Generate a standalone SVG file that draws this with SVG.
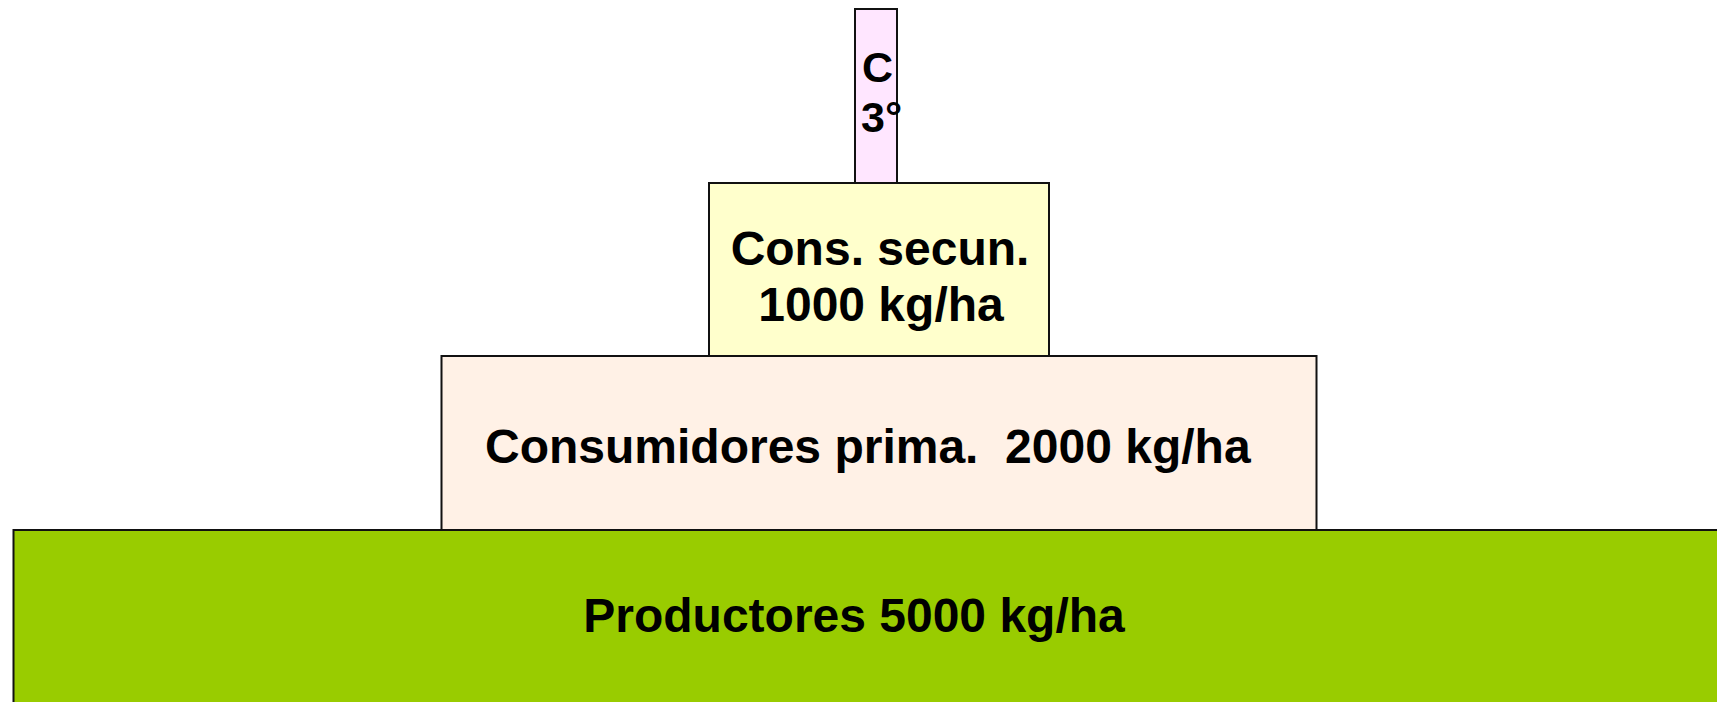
<svg xmlns="http://www.w3.org/2000/svg" width="1717" height="702" viewBox="0 0 1717 702">
<style>
.box{stroke:#111;stroke-width:2}
.t{font-family:"Liberation Sans",Arial,Helvetica,sans-serif;font-weight:bold;fill:#000}
</style>
<rect width="1717" height="702" fill="#fff"/>
<g id="connectors"></g>
<g id="productores">
<rect class="box" x="13.5" y="530" width="1720" height="200" fill="#99CC00"/>
<text class="t" x="854" y="632" font-size="48" text-anchor="middle">Productores 5000 kg/ha</text>
</g>
<g id="consumidores-prima">
<rect class="box" x="441.5" y="356" width="875" height="174" fill="#FFF1E6"/>
<text class="t" x="485" y="463" font-size="48" xml:space="preserve">Consumidores prima.  2000 kg/ha</text>
</g>
<g id="cons-secun">
<rect class="box" x="709" y="183" width="340" height="173" fill="#FFFFCC"/>
<text class="t" x="880" y="265" font-size="48" text-anchor="middle">Cons. secun.</text>
<text class="t" x="881" y="321" font-size="48" text-anchor="middle">1000 kg/ha</text>
</g>
<g id="c3">
<rect class="box" x="855" y="9" width="42" height="174" fill="#FFE6FF"/>
<text class="t" x="862" y="82" font-size="43">C</text>
<text class="t" x="861" y="132" font-size="43">3°</text>
</g>
</svg>
